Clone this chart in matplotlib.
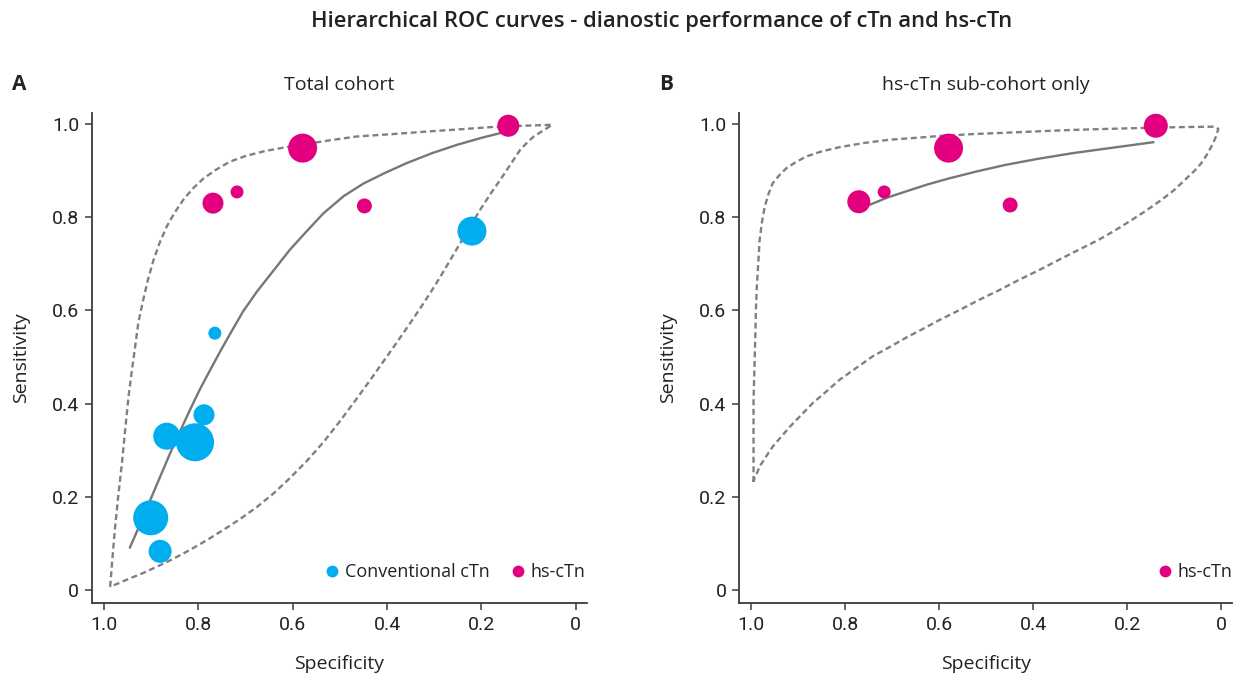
import matplotlib
matplotlib.use("Agg")
import matplotlib.pyplot as plt
from matplotlib.lines import Line2D

# ---------------- data ----------------
# Panel A: total cohort (specificity, sensitivity, marker diameter ~ study weight)
conv_spec = [0.765, 0.788, 0.867, 0.807, 0.901, 0.881, 0.220]
conv_sens = [0.551, 0.376, 0.330, 0.317, 0.155, 0.083, 0.770]
conv_weight = [13, 21, 27, 38, 35, 23, 29]

hs_spec_A = [0.143, 0.579, 0.769, 0.718, 0.448]
hs_sens_A = [0.996, 0.948, 0.830, 0.854, 0.824]
hs_weight_A = [22, 29, 21, 13, 15]

# summary HSROC curve, panel A
sroc_spec_A = [0.946, 0.924, 0.902, 0.881, 0.860, 0.839, 0.818, 0.797, 0.775, 0.752, 0.729,
               0.705, 0.676, 0.641, 0.606, 0.570, 0.535, 0.492, 0.450, 0.404, 0.358, 0.305,
               0.252, 0.200, 0.153]
sroc_sens_A = [0.089, 0.140, 0.193, 0.243, 0.293, 0.340, 0.386, 0.430, 0.472, 0.515, 0.556,
               0.598, 0.640, 0.685, 0.730, 0.770, 0.808, 0.845, 0.872, 0.895, 0.916, 0.937,
               0.955, 0.970, 0.982]

# prediction region contour, panel A
pred_spec_A = [0.987, 0.982, 0.977, 0.970, 0.962, 0.955, 0.948, 0.941, 0.934, 0.927, 0.917,
               0.907, 0.895, 0.882, 0.867, 0.850, 0.832, 0.812, 0.789, 0.762, 0.733, 0.700,
               0.662, 0.620, 0.577, 0.520, 0.464, 0.390, 0.323, 0.250, 0.181, 0.110, 0.050,
               0.070, 0.089, 0.103, 0.118, 0.139, 0.160, 0.182, 0.203, 0.224, 0.245, 0.266,
               0.287, 0.308, 0.330, 0.348, 0.365, 0.387, 0.408, 0.436, 0.464, 0.500, 0.535,
               0.570, 0.606, 0.641, 0.676, 0.712, 0.747, 0.782, 0.818, 0.853, 0.888, 0.916,
               0.945, 0.966, 0.987]
pred_sens_A = [0.007, 0.070, 0.129, 0.200, 0.272, 0.345, 0.415, 0.470, 0.522, 0.575, 0.622,
               0.665, 0.708, 0.745, 0.780, 0.810, 0.837, 0.861, 0.883, 0.902, 0.919, 0.931,
               0.941, 0.949, 0.956, 0.965, 0.973, 0.978, 0.983, 0.988, 0.993, 0.996, 0.998,
               0.985, 0.973, 0.960, 0.944, 0.912, 0.880, 0.848, 0.815, 0.780, 0.744, 0.708,
               0.672, 0.638, 0.604, 0.577, 0.552, 0.520, 0.490, 0.450, 0.411, 0.362, 0.317,
               0.277, 0.240, 0.207, 0.178, 0.152, 0.129, 0.107, 0.086, 0.067, 0.050, 0.037,
               0.025, 0.016, 0.007]

# Panel B: hs-cTn sub-cohort only
hs_spec_B = [0.139, 0.580, 0.771, 0.717, 0.449]
hs_sens_B = [0.996, 0.948, 0.833, 0.854, 0.826]
hs_weight_B = [24, 29, 23, 13, 15]

sroc_spec_B = [0.749, 0.710, 0.671, 0.625, 0.579, 0.520, 0.459, 0.390, 0.317, 0.230, 0.142]
sroc_sens_B = [0.826, 0.842, 0.855, 0.870, 0.883, 0.898, 0.912, 0.925, 0.937, 0.949, 0.961]

pred_spec_B = [0.995, 0.995, 0.995, 0.993, 0.991, 0.990, 0.988, 0.985, 0.982, 0.977, 0.971,
               0.963, 0.954, 0.940, 0.925, 0.905, 0.883, 0.850, 0.812, 0.760, 0.706, 0.650,
               0.600, 0.530, 0.459, 0.390, 0.317, 0.250, 0.176, 0.090, 0.013, 0.006,
               0.012, 0.021, 0.031, 0.042, 0.058, 0.077, 0.100, 0.127, 0.158, 0.190, 0.225,
               0.261, 0.303, 0.346, 0.388, 0.431, 0.473, 0.516, 0.558, 0.600, 0.635, 0.671,
               0.706, 0.742, 0.777, 0.812, 0.840, 0.869, 0.893, 0.918, 0.936, 0.954, 0.968,
               0.982, 0.988, 0.993, 0.995]
pred_sens_B = [0.232, 0.300, 0.408, 0.480, 0.551, 0.600, 0.651, 0.700, 0.751, 0.790, 0.823,
               0.850, 0.873, 0.890, 0.905, 0.918, 0.930, 0.941, 0.950, 0.959, 0.966, 0.970,
               0.974, 0.978, 0.981, 0.984, 0.987, 0.989, 0.991, 0.993, 0.994, 0.989,
               0.970, 0.951, 0.933, 0.916, 0.898, 0.880, 0.858, 0.837, 0.815, 0.794, 0.772,
               0.751, 0.730, 0.708, 0.686, 0.665, 0.643, 0.622, 0.600, 0.579, 0.560, 0.541,
               0.521, 0.501, 0.476, 0.451, 0.426, 0.401, 0.376, 0.350, 0.329, 0.308, 0.287,
               0.265, 0.250, 0.240, 0.232]

ticks = [1.0, 0.8, 0.6, 0.4, 0.2, 0.0]
tick_labels = ["1.0", "0.8", "0.6", "0.4", "0.2", "0"]

# ---------------- style ----------------
BLUE = "#00AEEF"
PINK = "#E2007F"
LINE = "#777777"
DASH = "#808080"
SPINE = "#3a3a3a"
TXT = "#222222"
TEXT_FONT = ["Open Sans", "DejaVu Sans"]
TICK_FONT = ["Roboto", "DejaVu Sans"]

plt.rcParams["lines.scale_dashes"] = False

fig = plt.figure(figsize=(12.38, 6.76), dpi=100)

def sz(d_px):
    return [(d * 0.72) ** 2 for d in d_px]

def style_axes(ax):
    ax.set_xlim(1.026, -0.024)
    ax.set_ylim(-0.0285, 1.024)
    for s in ["top", "right"]:
        ax.spines[s].set_visible(False)
    for s in ["left", "bottom"]:
        ax.spines[s].set_color(SPINE)
        ax.spines[s].set_linewidth(1.3)
    ax.set_xticks(ticks)
    ax.set_xticklabels(tick_labels, fontfamily=TICK_FONT)
    ax.set_yticks(ticks)
    ax.set_yticklabels(tick_labels, fontfamily=TICK_FONT)
    ax.tick_params(direction="out", length=5, width=1.1, color=SPINE,
                   labelsize=14, labelcolor=TXT, pad=4)
    ax.set_xlabel("Specificity", fontsize=14, family=TEXT_FONT, color=TXT, labelpad=15)
    ax.set_ylabel("Sensitivity", fontsize=14, family=TEXT_FONT, color=TXT, labelpad=16)

axA = fig.add_axes([0.0741, 0.1075, 0.4001, 0.7258])
axB = fig.add_axes([0.5969, 0.1075, 0.3986, 0.7258])

DASH_STYLE = (0, (4.3, 2.6))

# Panel A
axA.plot(pred_spec_A, pred_sens_A, color=DASH, lw=1.7, linestyle=DASH_STYLE, zorder=2)
axA.plot(sroc_spec_A, sroc_sens_A, color=LINE, lw=1.7, zorder=2, solid_capstyle="butt")
axA.scatter(conv_spec, conv_sens, s=sz(conv_weight), color=BLUE, linewidths=0, zorder=3)
axA.scatter(hs_spec_A, hs_sens_A, s=sz(hs_weight_A), color=PINK, linewidths=0, zorder=3)
style_axes(axA)
axA.set_title("Total cohort", fontsize=14, family=TEXT_FONT, color=TXT, pad=16)

# Panel B
axB.plot(pred_spec_B, pred_sens_B, color=DASH, lw=1.7, linestyle=DASH_STYLE, zorder=2)
axB.plot(sroc_spec_B, sroc_sens_B, color=LINE, lw=1.7, zorder=2, solid_capstyle="butt")
axB.scatter(hs_spec_B, hs_sens_B, s=sz(hs_weight_B), color=PINK, linewidths=0, zorder=3)
style_axes(axB)
axB.set_title("hs-cTn sub-cohort only", fontsize=14, family=TEXT_FONT, color=TXT, pad=16)

# Legends
def handle(c, lab):
    return Line2D([], [], marker="o", linestyle="none", markersize=8.5,
                  markerfacecolor=c, markeredgewidth=0, label=lab)

legA = axA.legend(handles=[handle(BLUE, "Conventional cTn"), handle(PINK, "hs-cTn")],
                  ncol=2, loc="lower right", bbox_to_anchor=(1.012, 0.031), frameon=False,
                  handletextpad=0.1, columnspacing=1.0, handlelength=1.2,
                  borderaxespad=0, prop={"family": TEXT_FONT, "size": 13})
for t in legA.get_texts():
    t.set_color(TXT)
legB = axB.legend(handles=[handle(PINK, "hs-cTn")],
                  ncol=1, loc="lower right", bbox_to_anchor=(1.014, 0.031), frameon=False,
                  handletextpad=0.1, handlelength=1.2,
                  borderaxespad=0, prop={"family": TEXT_FONT, "size": 13})
for t in legB.get_texts():
    t.set_color(TXT)

# Panel letters & main title
fig.text(12 / 1238, 1 - 84 / 676, "A", fontsize=15, fontweight="bold", family=TEXT_FONT,
         color=TXT, ha="left", va="center")
fig.text(659 / 1238, 1 - 84 / 676, "B", fontsize=15, fontweight="bold", family=TEXT_FONT,
         color=TXT, ha="left", va="center")
fig.text(662 / 1238, 1 - 21 / 676,
         "Hierarchical ROC curves - dianostic performance of cTn and hs-cTn",
         fontsize=15.8, fontweight="semibold", family=TEXT_FONT, color=TXT,
         ha="center", va="center")

fig.savefig("out.png", dpi=100, facecolor="white")
